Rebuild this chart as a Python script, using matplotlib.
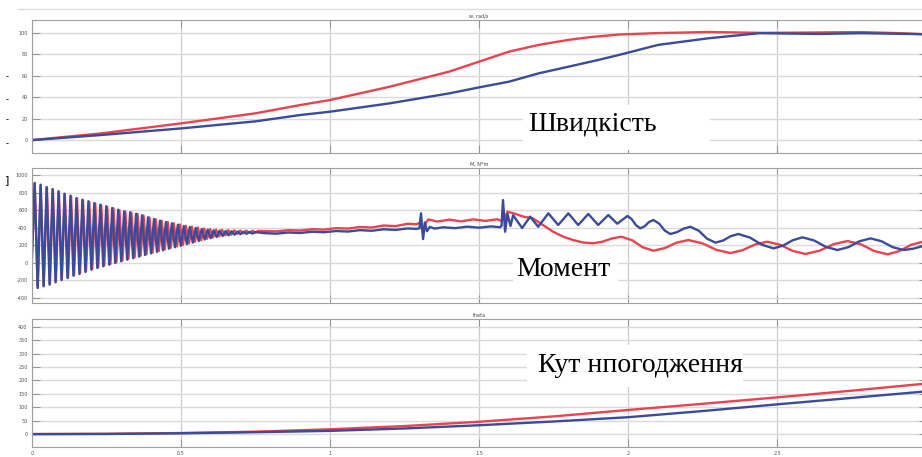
import numpy as np
import matplotlib.pyplot as plt
from matplotlib.patches import Rectangle
from matplotlib.lines import Line2D

# --- speed w, rad/s ---
w_red_t = [0, 0.23, 0.5, 0.75, 0.9, 1.0, 1.2, 1.4, 1.5, 1.6, 1.7, 1.8, 1.87, 1.97, 2.1, 2.27, 2.45, 2.6, 2.78, 2.9, 2.985]
w_red = [0, 6.2, 15.6, 25, 32.7, 37.4, 49.8, 63.9, 73.2, 82.5, 88.8, 93.5, 96, 98.5, 99.8, 100.8, 100, 100.3, 100.7, 99.8, 98.8]
w_blue_t = [0, 0.23, 0.5, 0.75, 0.9, 1.0, 1.2, 1.4, 1.5, 1.6, 1.7, 1.8, 1.9, 1.97, 2.1, 2.27, 2.44, 2.64, 2.78, 2.985]
w_blue = [0, 4.7, 10.9, 17.5, 23.4, 26.5, 34.3, 43.6, 49.2, 54.5, 62.3, 68.5, 74.8, 79.5, 88.8, 95, 99.7, 99, 99.7, 98.8]

# --- torque M, N*m : start-up oscillation (peaks / troughs) ---
m_blue_osc_t = [0.00, 0.01, 0.02, 0.03, 0.04, 0.05, 0.06, 0.07, 0.08, 0.09,
                0.10, 0.11, 0.12, 0.13, 0.14, 0.15, 0.16, 0.17, 0.18, 0.19,
                0.20, 0.21, 0.22, 0.23, 0.24, 0.25, 0.26, 0.27, 0.28, 0.29,
                0.30, 0.31, 0.32, 0.33, 0.34, 0.35, 0.36, 0.37, 0.38, 0.39,
                0.40, 0.41, 0.42, 0.43, 0.44, 0.45, 0.46, 0.47, 0.48, 0.49,
                0.50, 0.51, 0.52, 0.53, 0.54, 0.55, 0.56, 0.57, 0.58, 0.59,
                0.60, 0.61, 0.62, 0.63, 0.64, 0.65, 0.66, 0.67, 0.68, 0.69,
                0.70, 0.71, 0.72, 0.73, 0.74, 0.75]
m_blue_osc = [0, 911, -289, 892, -270, 865, -251, 842, -224, 816,
              -198, 789, -175, 766, -149, 739, -129, 720, -106, 702,
              -80, 682, -61, 663, -41, 645, -23, 625, -3, 606,
              16, 587, 34, 576, 52, 560, 70, 542, 88, 519,
              106, 499, 124, 480, 142, 465, 160, 450, 177, 434,
              194, 419, 212, 408, 230, 397, 248, 385, 265, 377,
              280, 370, 294, 366, 305, 362, 313, 359, 320, 356,
              326, 354, 330, 352, 333, 350]
m_red_osc_t = [0.000, 0.010, 0.020, 0.030, 0.040, 0.051, 0.061, 0.071, 0.081, 0.091,
               0.101, 0.111, 0.122, 0.132, 0.142, 0.152, 0.162, 0.172, 0.182, 0.193,
               0.203, 0.213, 0.223, 0.233, 0.243, 0.253, 0.264, 0.274, 0.284, 0.294,
               0.304, 0.314, 0.324, 0.334, 0.345, 0.355, 0.365, 0.375, 0.385, 0.395,
               0.405, 0.416, 0.426, 0.436, 0.446, 0.456, 0.466, 0.476, 0.487, 0.497,
               0.507, 0.517, 0.527, 0.537, 0.547, 0.557, 0.568, 0.578, 0.588, 0.598,
               0.608, 0.618, 0.628, 0.638, 0.649, 0.659, 0.669, 0.679, 0.689, 0.699,
               0.709, 0.719, 0.730, 0.740, 0.750, 0.760]
m_red_osc = [0, 905, -280, 885, -262, 858, -243, 835, -216, 810,
             -190, 783, -167, 760, -141, 733, -120, 714, -97, 696,
             -72, 676, -52, 657, -32, 639, -14, 620, 6, 601,
             25, 583, 43, 572, 61, 556, 79, 538, 97, 516,
             115, 497, 133, 479, 151, 465, 169, 451, 186, 436,
             203, 422, 221, 412, 239, 402, 256, 391, 273, 384,
             288, 378, 301, 375, 312, 372, 321, 370, 329, 368,
             335, 366, 340, 365, 344, 364]

# --- torque after the start-up transient ---
m_blue_t = [0.78, 0.82, 0.86, 0.90, 0.94, 0.98, 1.02, 1.06, 1.10, 1.14, 1.18, 1.22, 1.26, 1.29,
            1.300, 1.305, 1.312, 1.318, 1.325, 1.335, 1.35, 1.38, 1.42, 1.46, 1.50, 1.54, 1.57,
            1.575, 1.580, 1.587, 1.595, 1.605,
            1.614, 1.644, 1.671, 1.698, 1.732, 1.765, 1.799, 1.832, 1.866, 1.899, 1.933, 1.963,
            1.997, 2.011, 2.026, 2.040, 2.055, 2.069, 2.084, 2.103, 2.122, 2.141, 2.163, 2.186,
            2.208, 2.236, 2.264, 2.292, 2.318, 2.343, 2.369, 2.408, 2.448, 2.487, 2.519, 2.552,
            2.584, 2.623, 2.662, 2.701, 2.738, 2.775, 2.812, 2.849, 2.886, 2.923, 2.955, 2.987]
m_blue = [338, 332, 345, 340, 354, 348, 362, 356, 372, 365, 382, 375, 392, 386,
          395, 565, 270, 460, 360, 410, 390, 405, 395, 412, 400, 415, 405,
          420, 716, 354, 560, 420,
          543, 396, 526, 411, 564, 431, 564, 431, 557, 431, 545, 446,
          534, 499, 428, 393, 417, 464, 488, 448, 368, 328, 349, 390,
          411, 366, 275, 229, 254, 303, 328, 287, 205, 164, 196, 258,
          290, 254, 181, 145, 178, 245, 278, 245, 178, 145, 160, 190]
m_red_t = [0.77, 0.82, 0.86, 0.90, 0.94, 0.98, 1.02, 1.06, 1.10, 1.14, 1.18, 1.22, 1.26, 1.29,
           1.300, 1.306, 1.313, 1.320, 1.330, 1.36, 1.40, 1.44, 1.48, 1.52, 1.56, 1.575,
           1.585, 1.595, 1.62, 1.65, 1.68, 1.71, 1.748, 1.78, 1.815, 1.85, 1.883,
           1.914, 1.946, 1.977, 2.013, 2.048, 2.084, 2.123, 2.162, 2.201, 2.248, 2.295,
           2.342, 2.383, 2.425, 2.466, 2.509, 2.551, 2.594, 2.641, 2.688, 2.735, 2.780,
           2.824, 2.869, 2.908, 2.948, 2.987]
m_red = [362, 358, 372, 368, 383, 378, 395, 390, 408, 402, 425, 418, 445, 440,
         455, 400, 340, 450, 495, 470, 492, 472, 495, 478, 496, 480,
         500, 582, 560, 525, 507, 440, 354, 300, 259, 230, 222,
         241, 278, 297, 257, 177, 137, 168, 229, 259, 222, 147,
         110, 143, 208, 240, 205, 135, 100, 137, 211, 248, 210,
         134, 96, 132, 204, 240]

# --- load angle theta ---
th_t = [0, 0.25, 0.5, 0.75, 1.0, 1.25, 1.5, 1.75, 2.0, 2.25, 2.5, 2.75, 2.985]
th_red = [0, 1, 4, 9, 18, 30, 46, 66, 90, 113, 137, 162, 187]
th_blue = [0, 0.5, 3, 7, 12, 21, 33, 47, 63, 86, 111, 135, 158]

x_ticks = [0, 0.5, 1, 1.5, 2, 2.5, 3]
x_labels = ['0', '0.5', '1', '1.5', '2', '2.5', '']

RED = '#e8434f'
BLUE = '#3b4b9b'
LW = 1.7
W, H = 922, 457

fig = plt.figure(figsize=(W / 100, H / 100), dpi=100)
fig.patch.set_facecolor('white')


def make_axes(top, bottom):
    left, right = 31.7, 926.6
    return fig.add_axes([left / W, 1 - bottom / H, (right - left) / W, (bottom - top) / H])


def setup(ax, ylim, yticks, title, show_x):
    ax.set_xlim(0, 3)
    ax.set_ylim(*ylim)
    ax.set_yticks(yticks)
    ax.set_yticklabels([str(v) for v in yticks])
    ax.set_xticks(x_ticks)
    if show_x:
        ax.set_xticklabels(x_labels)
    else:
        ax.set_xticklabels([])
    ax.yaxis.grid(True, color='#dadada', lw=1.0)
    ax.xaxis.grid(True, color='#cccccc', lw=0.9)
    ax.set_axisbelow(True)
    ax.tick_params(direction='in', length=6, width=0.6, color='#888888',
                   labelsize=3.5, labelcolor='#555555', pad=3, top=True, right=True)
    for s in ax.spines.values():
        s.set_color('#a0a0a0')
        s.set_linewidth(0.8)
    ax.set_title(title, fontsize=3.5, color='#444444', pad=2)


ax1 = make_axes(20, 153)
ax1.plot(w_red_t, w_red, color=RED, lw=LW)
ax1.plot(w_blue_t, w_blue, color=BLUE, lw=LW)
setup(ax1, (-12, 112), [0, 20, 40, 60, 80, 100], 'w, rad/s', False)

ax2 = make_axes(168.3, 303.3)
ax2.plot(np.concatenate([m_red_osc_t, m_red_t]), np.concatenate([m_red_osc, m_red]), color=RED, lw=LW)
ax2.plot(np.concatenate([m_blue_osc_t, m_blue_t]), np.concatenate([m_blue_osc, m_blue]), color=BLUE, lw=LW)
setup(ax2, (-464, 1079), [-400, -200, 0, 200, 400, 600, 800, 1000], 'M, N*m', False)

ax3 = make_axes(319.3, 446.7)
ax3.plot(th_t, th_red, color=RED, lw=LW)
ax3.plot(th_t, th_blue, color=BLUE, lw=LW)
setup(ax3, (-47, 428), [0, 50, 100, 150, 200, 250, 300, 350, 400], 'theta', True)


# white boxes with the Ukrainian captions
def caption(x0, y0, x1, y1, text, cx, cy):
    fig.add_artist(Rectangle((x0 / W, 1 - y1 / H), (x1 - x0) / W, (y1 - y0) / H,
                             transform=fig.transFigure, facecolor='white',
                             edgecolor='none', zorder=5))
    fig.text(cx / W, 1 - cy / H, text, ha='center', va='center', fontsize=20,
             family='Liberation Serif', color='black', zorder=6)


caption(523, 105, 710, 150, 'Швидкість', 593, 124)
caption(513, 250, 618, 290, 'Момент', 563, 269)
caption(527, 345, 743, 387, 'Кут нпогодження', 641, 366)

# stray marks of the original screenshot
fig.add_artist(Line2D([18 / W, 1], [1 - 9 / H, 1 - 9 / H], transform=fig.transFigure,
                      color='#dddddd', lw=1))
for yy in [77, 100, 120, 144]:
    fig.text(7 / W, 1 - yy / H, '-', fontsize=6, ha='center', va='center')
fig.text(7 / W, 1 - 180 / H, ']', fontsize=8, ha='center', va='center')

fig.savefig('out.png', dpi=100, facecolor='white')
